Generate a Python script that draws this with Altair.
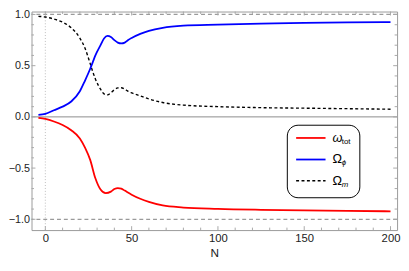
import altair as alt
import pandas as pd

# ---- data ----
phi_N = [-4, 0, 5, 10, 15, 20, 23, 26, 27.5, 29, 32, 34, 36, 38, 40, 42, 44, 46, 48, 50,
         55, 60, 68, 80, 100, 125, 150, 175, 200]
omega_phi = [0.02, 0.03, 0.065, 0.10, 0.15, 0.25, 0.355, 0.47, 0.535, 0.60, 0.70, 0.765, 0.79,
             0.78, 0.75, 0.725, 0.717, 0.725, 0.75, 0.77, 0.81, 0.84, 0.87, 0.89, 0.90, 0.91,
             0.918, 0.922, 0.925]

m_N = [-4, 0, 5, 10, 15, 20, 23, 26, 27.5, 29, 32, 34, 36, 38, 40, 42, 44, 46, 48, 50,
       55, 60, 68, 80, 100, 125, 150, 175, 200]
omega_m = [0.982, 0.975, 0.955, 0.925, 0.87, 0.77, 0.67, 0.52, 0.44, 0.37, 0.27, 0.225, 0.215,
           0.235, 0.265, 0.283, 0.285, 0.27, 0.25, 0.235, 0.205, 0.175, 0.14, 0.115, 0.10,
           0.09, 0.085, 0.08, 0.075]

w_N = [-4, 0, 5, 10, 15, 20, 23, 26, 29, 32, 35, 38, 40, 42, 44, 46, 50, 55, 60, 68, 80,
       100, 125, 150, 175, 200]
w_tot = [-0.01, -0.02, -0.045, -0.08, -0.13, -0.21, -0.30, -0.42, -0.60, -0.71, -0.745, -0.73,
         -0.705, -0.695, -0.70, -0.72, -0.76, -0.80, -0.83, -0.865, -0.885, -0.898, -0.907,
         -0.913, -0.918, -0.922]

x_major = [0, 50, 100, 150, 200]
x_minor = [10, 20, 30, 40, 60, 70, 80, 90, 110, 120, 130, 140, 160, 170, 180, 190]
y_major = [-1.0, -0.5, 0.0, 0.5, 1.0]
y_minor = [-0.9, -0.8, -0.7, -0.6, -0.4, -0.3, -0.2, -0.1, 0.1, 0.2, 0.3, 0.4, 0.6, 0.7, 0.8, 0.9]
ref_lines = [-1.0, 1.0]

# ---- layout ----
W, H = 373, 223
FONT = "Liberation Sans"
GRAY = "#9a9a9a"

xs = alt.Scale(domain=[-8.0, 203.8], nice=False, zero=False)
ys = alt.Scale(domain=[-1.1054, 1.0287], nice=False, zero=False)

xaxis = alt.Axis(values=x_major, ticks=False, domain=False, grid=False, labelFlush=False,
                 labelFont=FONT, labelFontSize=11.5, labelColor="#222222", labelPadding=3,
                 titleFont=FONT, titleFontSize=12, titleFontWeight="normal", titleColor="#222222",
                 titlePadding=3)
yaxis = alt.Axis(values=y_major, format=".1f", ticks=False, domain=False, grid=False,
                 labelFont=FONT, labelFontSize=11, labelColor="#222222", labelPadding=2)


def X(field="x"):
    return alt.X(f"{field}:Q", scale=xs, axis=xaxis, title="N")


def Y(field="y"):
    return alt.Y(f"{field}:Q", scale=ys, axis=yaxis, title=None)


df_phi = pd.DataFrame({"x": phi_N, "y": omega_phi})
df_m = pd.DataFrame({"x": m_N, "y": omega_m})
df_w = pd.DataFrame({"x": w_N, "y": w_tot})

zero_h = alt.Chart(pd.DataFrame({"y": [0.0]})).mark_rule(color="#8a8a8a", strokeWidth=1).encode(y=Y())
zero_v = alt.Chart(pd.DataFrame({"x": [0.0]})).mark_rule(
    color="#bbbbbb", strokeWidth=1, strokeDash=[1, 2]).encode(x=X())
refs = alt.Chart(pd.DataFrame({"y": ref_lines})).mark_rule(
    color=GRAY, strokeWidth=1.3, strokeDash=[4, 3]).encode(y=Y())

tick_col = "#a8a8a8"
xmaj = pd.DataFrame({"x": x_major})
xmin = pd.DataFrame({"x": x_minor})
ymaj = pd.DataFrame({"y": y_major})
ymin = pd.DataFrame({"y": y_minor})

ticks = []
for df, ln in ((xmaj, 4), (xmin, 2.5)):
    ticks.append(alt.Chart(df).mark_rule(color=tick_col).encode(
        x=X(), y=alt.value(H), y2=alt.value(H - ln)))
    ticks.append(alt.Chart(df).mark_rule(color=tick_col).encode(
        x=X(), y=alt.value(0), y2=alt.value(ln)))
for df, ln in ((ymaj, 4), (ymin, 2.5)):
    ticks.append(alt.Chart(df).mark_rule(color=tick_col).encode(
        y=Y(), x=alt.value(0), x2=alt.value(ln)))
    ticks.append(alt.Chart(df).mark_rule(color=tick_col).encode(
        y=Y(), x=alt.value(W), x2=alt.value(W - ln)))

line_m = alt.Chart(df_m).mark_line(color="#000000", strokeWidth=1.4, strokeDash=[3, 2.5],
                                   interpolate="monotone").encode(x=X(), y=Y())
line_phi = alt.Chart(df_phi).mark_line(color="#0000ff", strokeWidth=1.8,
                                       interpolate="monotone").encode(x=X(), y=Y())
line_w = alt.Chart(df_w).mark_line(color="#ff0000", strokeWidth=1.8,
                                   interpolate="monotone").encode(x=X(), y=Y())

# ---- legend box ----
LX0, LX1, LY0, LY1 = 261, 335, 116, 190
box = alt.Chart(pd.DataFrame({"k": [0]})).mark_rect(
    fill="white", stroke="#000000", strokeWidth=1, cornerRadius=11).encode(
    x=alt.value(LX0), x2=alt.value(LX1), y=alt.value(LY0), y2=alt.value(LY1))

leg = [box]
entries = [("#ff0000", None, 129, "ω", "tot", "italic"),
           ("#0000ff", None, 151, "Ω", "ϕ", "italic"),
           ("#000000", [3, 2.5], 172.7, "Ω", "m", "italic")]
for col, dash, yy, main, sub, mstyle in entries:
    kw = dict(color=col, strokeWidth=1.8 if dash is None else 1.4)
    if dash is not None:
        kw["strokeDash"] = dash
    leg.append(alt.Chart(pd.DataFrame({"k": [0]})).mark_rule(**kw).encode(
        x=alt.value(270), x2=alt.value(300), y=alt.value(yy)))
    leg.append(alt.Chart(pd.DataFrame({"k": [0]})).mark_text(
        text=main, font=FONT, fontSize=13, align="left", baseline="middle",
        fontStyle="italic" if main == "ω" else "normal", color="#000000").encode(
        x=alt.value(307), y=alt.value(yy)))
    leg.append(alt.Chart(pd.DataFrame({"k": [0]})).mark_text(
        text=sub, font=FONT, fontSize=8, align="left", baseline="middle",
        fontStyle=mstyle if sub != "tot" else "normal", color="#000000").encode(
        x=alt.value(316.5), y=alt.value(yy + 4)))

chart = alt.layer(zero_v, refs, zero_h, *ticks, line_m, line_phi, line_w, *leg).properties(
    width=W, height=H,
    autosize=alt.AutoSizeParams(type="none"),
    padding={"left": 24, "top": 1, "right": 4, "bottom": 32},
).configure_view(stroke=GRAY, strokeWidth=1)

chart.save("out.html", embed_options={"renderer": "svg", "actions": False})
